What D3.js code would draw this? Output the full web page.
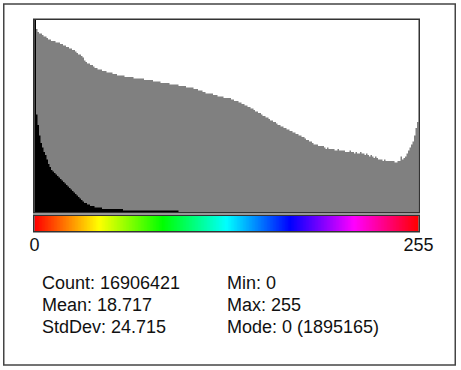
<!DOCTYPE html>
<html><head><meta charset="utf-8">
<script src="https://cdn.jsdelivr.net/npm/d3@7"></script>
<style>html,body{margin:0;padding:0;background:#fff;} svg{display:block;}</style>
</head><body><svg id="c" width="461" height="370"></svg>
<script>
// pixel values 0..255 (categories)
const binValues = d3.range(256);
// estimated counts per pixel value
const counts = [
1895165,967000,859000,760000,691000,642000,602000,563000,523000,484000,
454000,429000,410000,395000,380000,365000,350000,336000,321000,306000,
291000,276000,262000,247000,232000,217000,202000,188000,173000,158000,
143000,128000,114000,99000,89000,80000,74500,69000,64100,59400,
55900,53100,50300,48500,46400,44000,42400,40800,39900,38700,
37800,36700,35600,34300,33300,32500,31800,31100,30200,29100,
28000,27800,27400,27000,26700,26400,25900,25800,25200,24600,
24100,23700,23200,22500,22300,22000,21700,21300,20700,19900,
19200,19100,18800,18600,18400,18100,17800,17700,17300,16900,
16500,16400,16100,16000,15700,15000,14500,14200,13800,13600,
13200,13000,12600,12400,12000,11800,11500,11200,10800,10300,
9750,9390,8980,8580,8270,8080,7900,7730,7500,7220,
7000,6750,6550,6310,6110,5980,5890,5760,5630,5510,
5340,5140,4920,4700,4490,4300,4100,3920,3690,3500,
3300,3130,2940,2790,2610,2440,2280,2130,1990,1860,
1740,1630,1520,1420,1330,1240,1160,1080,1012,945,
883,826,771,721,679,644,607,575,542,514,
484,459,432,410,386,366,345,325,306,286,
265,247,231,216,202,189,176,165,162,150,
149,146,150,129,127,132,120,118,128,116,
114,112,121,107,104,103,112,98,96,95,
103,93,94,90,98,89,87,95,84,83,
80,84,75,73,76,67,64,66,59,57,
58,53,52,55,49,48,50,47,47,52,
45,46,48,49,66,56,63,73,88,107,
134,167,226,329,558,877];
const tickLabels = ["0", "255"];
const statsLeft = ["Count: 16906421", "Mean: 18.717", "StdDev: 24.715"];
const statsRight = ["Min: 0", "Max: 255", "Mode: 0 (1895165)"];
const modeCount = 1895165;

const svg = d3.select("#c");
const font = "'Liberation Sans', Arial, sans-serif";

// outer border
svg.append("rect").attr("x",3.75).attr("y",4).attr("width",451.5).attr("height",361)
  .attr("fill","#fff").attr("stroke","#444").attr("stroke-width",1.5);

const x = d3.scaleLinear().domain([0,256]).range([34.5,418.5]);
const units = 128;
const yPix = d3.scaleLinear().domain([0,units]).range([212,20]);
const yLin = d3.scaleLinear().domain([0,modeCount]).range([0,units]);
const yLog = d3.scaleLinear().domain([0,Math.log(modeCount)]).range([0,units]);

const data = binValues.map((v,i)=>({v, c: counts[i]}));
const ext = data.concat([{v:256, c:counts[255]}]);

const logH = d => d.c>0 ? Math.floor(yLog(Math.log(d.c))+1e-9) : 0;
const linH = d => Math.min(units, Math.floor(yLin(d.c)+1e-9));

const area = h => d3.area().x(d=>x(d.v)).y0(yPix(0)).y1(d=>yPix(h(d))).curve(d3.curveStepAfter);

svg.append("path").datum(ext).attr("d", area(logH)).attr("fill","#808080");
svg.append("path").datum(ext).attr("d", area(linH)).attr("fill","#000");

// histogram frame
svg.append("rect").attr("x",33.75).attr("y",19.25).attr("width",385.5).attr("height",193.5)
  .attr("fill","none").attr("stroke","#333").attr("stroke-width",1.5);

// colour bar (spectrum LUT)
const hue = d3.scaleLinear().domain([0,255]).range([0,360]);
svg.append("g").selectAll("rect").data(binValues).join("rect")
  .attr("x", d=>x(d)).attr("y",216).attr("width", d=> x(d+1)-x(d) + (d<255?0.6:0)).attr("height",15)
  .attr("fill", d=> d3.hsl(hue(d),1,0.5).toString());
svg.append("rect").attr("x",33.75).attr("y",215.25).attr("width",385.5).attr("height",16.5)
  .attr("fill","none").attr("stroke","#333").attr("stroke-width",1.5);

// tick labels
svg.append("g").selectAll("text").data(tickLabels).join("text")
  .attr("x",(d,i)=> i===0 ? x(0) : x(256))
  .attr("y",251).attr("text-anchor","middle")
  .attr("font-family",font).attr("font-size",18).attr("fill","#111").text(d=>d);

// statistics
const rows = [288.5, 310.5, 332.5];
svg.append("g").selectAll("text").data(statsLeft).join("text")
  .attr("x",42).attr("y",(d,i)=>rows[i])
  .attr("font-family",font).attr("font-size",18).attr("fill","#111").text(d=>d);
svg.append("g").selectAll("text").data(statsRight).join("text")
  .attr("x",227).attr("y",(d,i)=>rows[i])
  .attr("font-family",font).attr("font-size",18).attr("fill","#111").text(d=>d);
</script>
</body></html>
